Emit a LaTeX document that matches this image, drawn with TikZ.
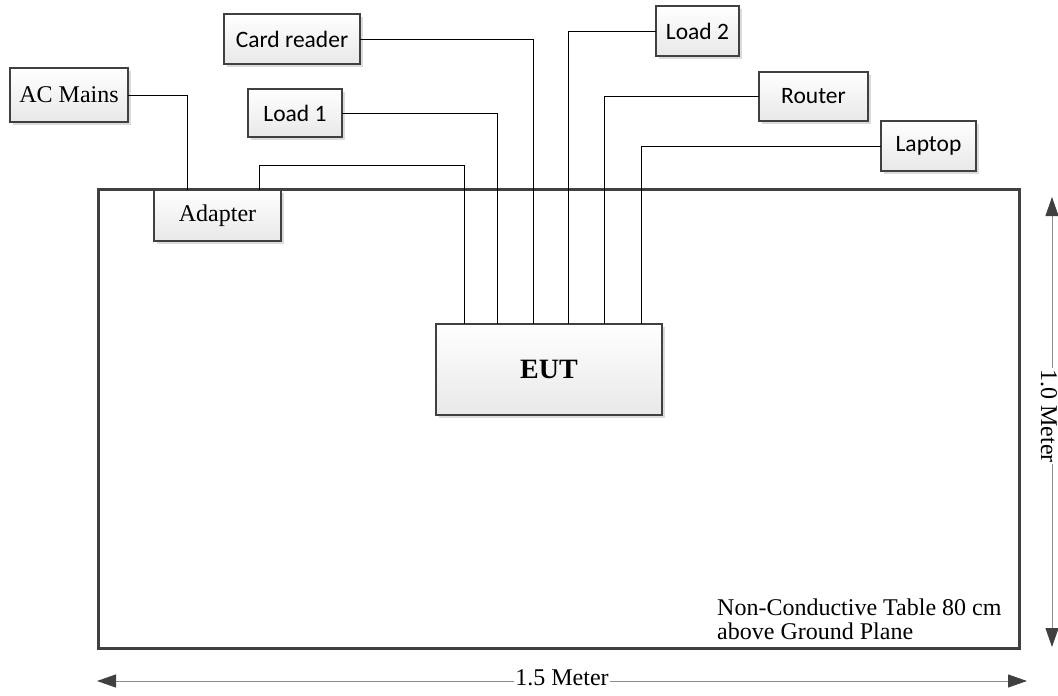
\documentclass[tikz,border=0pt]{standalone}
\usepackage{fontspec}
\setmainfont{Liberation Serif}
\newfontfamily\calibri{Carlito}
\usepackage{xcolor}
\usepackage{tikz}
\usetikzlibrary{arrows.meta, shadows}
\definecolor{framegray}{HTML}{404040}
\definecolor{rulergray}{HTML}{8C8C8C}
\tikzset{
	font = \fontsize{24}{24}\selectfont,
	device/.style={
		draw=framegray,
		line width=2pt,
		top color=white,
		bottom color=black!9,
		drop shadow={shadow xshift=3pt, shadow yshift=-3pt, fill=black!14, opacity=1},
		inner sep=0pt,
		outer sep=0pt
	},
	pcdevice/.style={
		device,
		font=\calibri\fontsize{23.5}{24}\selectfont
	},
	tablebox/.style={
		draw=framegray,
		line width=3pt,
		inner sep=0pt,
		outer sep=0pt
	},
	wire/.style={
		draw=black,
		line width=.9pt
	},
	dimline/.style={
		draw=rulergray,
		line width=1pt,
		-{Triangle[length=19pt, width=13pt, color=framegray]}
	},
	dimtext/.style={
		inner sep=1pt
	}
}

\begin{document}
\begin{tikzpicture}[x=1pt, y=-1pt]
\useasboundingbox (0,0) rectangle (1058,696);
\node[tablebox, minimum width=921pt, minimum height=459pt] (table) at (559,419) {};

\node[device, minimum width=118pt, minimum height=54pt] (mains) at (69,95) {AC Mains};
\node[device, minimum width=127pt, minimum height=51pt] (adapter) at (217.5,215.5) {Adapter};
\node[pcdevice, minimum width=136pt, minimum height=50pt] (reader) at (292,39) {Card reader};
\node[pcdevice, minimum width=94pt, minimum height=48pt] (load1) at (295,113) {Load 1};
\node[pcdevice, minimum width=83pt, minimum height=50pt] (load2) at (697.5,31) {Load 2};
\node[pcdevice, minimum width=109pt, minimum height=49pt] (router) at (813.5,96.5) {Router};
\node[pcdevice, minimum width=95pt, minimum height=50pt] (laptop) at (928.5,146) {Laptop};
\node[device, font=\bfseries\fontsize{28}{32}\selectfont, minimum width=226pt, minimum height=91pt] (eut) at (549,369.5) {EUT};

\foreach \i/\dx in {1/28,2/61,3/97,4/132,5/168,6/205}
	\coordinate (port\i) at ([xshift=\dx pt]eut.north west);

\draw[wire] (mains.east) -| ([xshift=-30.5pt]adapter.north);
\draw[wire] ([xshift=41.5pt]adapter.north) -- ++(0,-25) -| (port1);
\draw[wire] (load1.east) -| (port2);
\draw[wire] (reader.east) -| (port3);
\draw[wire] (load2.west) -| (port4);
\draw[wire] (router.west) -| (port5);
\draw[wire] (laptop.west) -| (port6);

\node[anchor=north west, align=left, inner sep=0pt] (note) at (717,599) {Non-Conductive Table 80 cm\\above Ground Plane};

\coordinate (hleft) at (97,681);
\coordinate (hright) at (1027,681);
\node[dimtext] (hlabel) at (562,678) {1.5 Meter};
\draw[dimline] (hleft -| hlabel.west) -- (hleft);
\draw[dimline] (hright -| hlabel.east) -- (hright);

\coordinate (vtop) at (1052,197);
\coordinate (vbottom) at (1052,647);
\node[dimtext, rotate=-90] (vlabel) at (1049,416) {1.0 Meter};
\draw[dimline] (vtop |- vlabel.west) -- (vtop);
\draw[dimline] (vbottom |- vlabel.east) -- (vbottom);
\end{tikzpicture}
\end{document}
